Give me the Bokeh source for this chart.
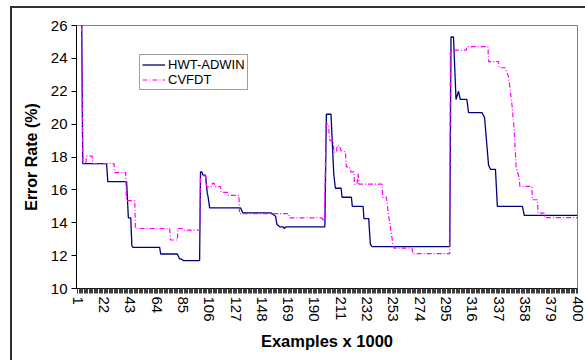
from bokeh.plotting import figure
from bokeh.models import FixedTicker, Range1d, Legend, LegendItem
from bokeh.embed import file_html
from bokeh.resources import INLINE

# ---- data ----
hwt_x = [1, 4, 5, 24, 25, 40, 41.4, 43.3, 44.2, 45, 66.4, 67.2, 80.5, 82.3, 83.7, 85.3, 98.3,
         99, 100, 101, 103, 104.4, 105, 106.3, 131, 132.8, 155, 157, 158.9, 160, 162.3, 165, 166,
         167, 198.3, 199.5, 203.2, 205.4, 206.7, 211.3, 212, 219.5, 220.2, 228.8, 229.5, 233.3,
         234.6, 236, 298, 299, 301, 303, 305, 306.4, 311.7, 313, 323.7, 325.8, 329, 330.5, 334.5,
         336, 356, 357.5, 400]
hwt_y = [27.5, 27.5, 17.6, 17.6, 16.5, 16.5, 14.3, 14.3, 12.6, 12.5, 12.5, 12.1, 12.1, 11.8, 11.8,
         11.7, 11.7, 17.1, 17.1, 16.9, 16.9, 15.8, 15.6, 14.9, 14.9, 14.6, 14.6, 14.5, 14.4, 13.9,
         13.75, 13.75, 13.65, 13.75, 13.75, 20.6, 20.6, 16.95, 16.1, 16.1, 15.55, 15.55, 15.0, 15.0,
         14.25, 14.25, 12.7, 12.55, 12.55, 25.3, 25.3, 21.5, 22.0, 21.5, 21.5, 20.7, 20.7, 20.4,
         17.5, 17.25, 17.25, 15.0, 15.0, 14.45, 14.45]

cvfdt_x = [1, 4, 5, 7.5, 8, 12.5, 13, 30, 30.5, 39.3, 39.8, 46.5, 47, 74.4, 75, 80.5, 81, 84.5, 85,
           98.3, 99, 103, 103.8, 108, 108.5, 110, 110.5, 115, 115.5, 120.4, 121, 129.6, 130.2,
           169.5, 170, 196, 197, 198, 199.3, 201, 202.3, 205, 205.5, 207.7, 208, 210, 211, 214.7,
           215.5, 218, 219, 221.5, 222, 224, 224.8, 225.5, 244, 244.5, 247.4, 249, 252.8, 253.5,
           267.9, 268.5, 298, 298.5, 311.2, 311.7, 328.5, 329, 337, 337.5, 342.3, 345, 347.6,
           349.5, 351, 353.5, 354, 363.6, 364, 368, 368.5, 373.4, 374, 400]
cvfdt_y = [27.5, 27.5, 17.6, 17.6, 18.05, 18.05, 17.6, 17.6, 17.05, 17.05, 15.35, 15.35, 13.65,
           13.65, 12.95, 12.95, 13.65, 13.65, 13.55, 13.55, 16.85, 16.85, 16.2, 16.2, 16.4, 16.4,
           16.2, 16.2, 15.85, 15.85, 15.67, 15.67, 14.55, 14.55, 14.3, 14.3, 14.1, 14.3, 20.0,
           20.0, 19.0, 19.0, 18.3, 18.3, 18.7, 18.7, 18.4, 18.3, 17.4, 17.4, 17.1, 17.1, 16.35,
           16.35, 17.0, 16.35, 16.35, 15.56, 15.56, 14.55, 12.6, 12.46, 12.46, 12.12, 12.12, 24.5,
           24.5, 24.72, 24.72, 23.8, 23.8, 23.43, 23.43, 22.86, 21.24, 19.62, 17.39, 16.7, 16.21,
           16.21, 15.4, 15.4, 14.59, 14.59, 14.31, 14.31]

x_tick_values = list(range(1, 401, 21))
y_tick_values = list(range(10, 27, 2))
series_names = ["HWT-ADWIN", "CVFDT"]

FONT = "Liberation Sans"

p = figure(width=573, height=352,
           x_range=Range1d(0, 400), y_range=Range1d(10, 26),
           output_backend="svg", toolbar_location=None,
           min_border_left=64, min_border_right=8, min_border_top=17, min_border_bottom=72,
           background_fill_color="white", border_fill_color="white",
           styles={"margin-left": "12px", "margin-top": "8px",
                   "outline": "2px solid #303030"})

p.outline_line_color = "#808080"
p.outline_line_width = 1
p.xgrid.grid_line_color = None
p.ygrid.grid_line_color = None

r1 = p.line(hwt_x, hwt_y, line_color="#000080", line_width=1.3)
r2 = p.line(cvfdt_x, cvfdt_y, line_color="#ff00ff", line_width=1.2, line_dash="5 2 1 2")

# x axis
xa = p.xaxis[0]
xa.ticker = FixedTicker(ticks=x_tick_values, minor_ticks=list(range(1, 401)))
xa.major_label_orientation = "vertical"
xa.major_label_text_font = FONT
xa.major_label_text_font_size = "15px"
xa.major_label_text_color = "black"
xa.major_tick_out = 5
xa.major_tick_in = 0
xa.minor_tick_out = 5
xa.minor_tick_in = 0
xa.minor_tick_line_color = "#404040"
xa.major_tick_line_color = "#404040"
xa.axis_line_color = "black"
xa.major_label_standoff = 3
xa.axis_label = "Examples x 1000"
xa.axis_label_text_font = FONT
xa.axis_label_text_font_size = "16.5px"
xa.axis_label_text_font_style = "bold"
xa.axis_label_text_color = "black"
xa.axis_label_standoff = 7

# y axis
ya = p.yaxis[0]
ya.ticker = FixedTicker(ticks=y_tick_values)
ya.major_label_text_font = FONT
ya.major_label_text_font_size = "15px"
ya.major_label_text_color = "black"
ya.major_tick_out = 5
ya.major_tick_in = 0
ya.minor_tick_line_color = None
ya.axis_line_color = "black"
ya.major_tick_line_color = "black"
ya.major_label_standoff = 4
ya.axis_label = "Error Rate (%)"
ya.axis_label_text_font = FONT
ya.axis_label_text_font_size = "16px"
ya.axis_label_text_font_style = "bold"
ya.axis_label_text_color = "black"
ya.axis_label_standoff = 8

legend = Legend(items=[LegendItem(label=series_names[0], renderers=[r1]),
                       LegendItem(label=series_names[1], renderers=[r2])],
                location=(63, 198))
legend.label_text_font = FONT
legend.label_text_font_size = "13px"
legend.label_text_color = "black"
legend.border_line_color = "#404040"
legend.border_line_width = 1
legend.background_fill_color = "white"
legend.background_fill_alpha = 1
legend.glyph_width = 23
legend.glyph_height = 15
legend.label_height = 15
legend.label_standoff = 3
legend.spacing = 0
legend.padding = 2
legend.margin = 0
p.add_layout(legend, "center")

open("out.html", "w").write(file_html(p, INLINE))
